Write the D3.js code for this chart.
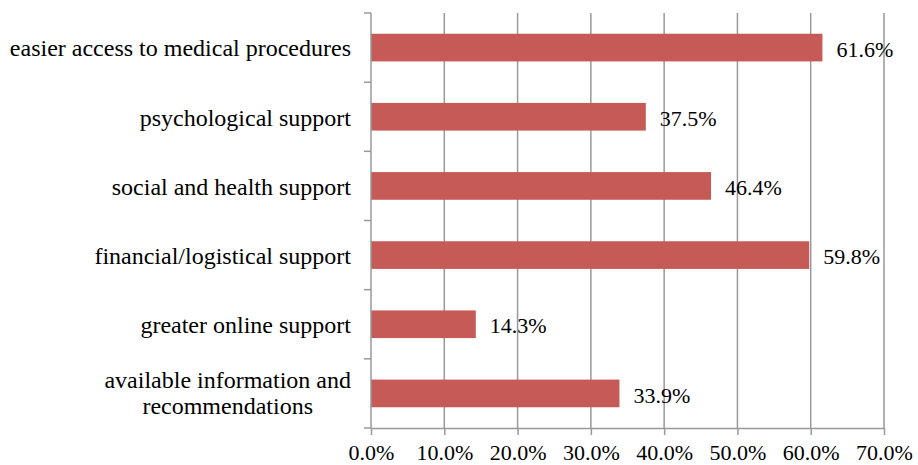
<!DOCTYPE html>
<meta charset="utf-8">
<style>
body { margin: 0; background: #fff; }
.grid line { stroke: #999; stroke-width: 1.5px; }
.axis path, .axis line { stroke: #999; stroke-width: 1.5px; }
</style>
<body>
<svg width="918" height="465"></svg>
<script src="https://d3js.org/d3.v7.min.js"></script>
<script>

var categories = [
  "easier access to medical procedures",
  "psychological support",
  "social and health support",
  "financial/logistical support",
  "greater online support",
  "available information and|recommendations"
];
var values = [61.6, 37.5, 46.4, 59.8, 14.3, 33.9];
var tickValues = [0, 10, 20, 30, 40, 50, 60, 70];

var serif = "'Liberation Serif', 'Times New Roman', serif";

var svg = d3.select("svg"),
    margin = {top: 13, right: 34, bottom: 37, left: 371},
    width = 918 - margin.left - margin.right,
    height = 465 - margin.top - margin.bottom;

var g = svg.append("g")
    .attr("transform", "translate(" + margin.left + "," + margin.top + ")");

var x = d3.scaleLinear().domain([0, 70]).range([0, width]);
var y = d3.scaleBand().domain(categories).range([0, height]).paddingInner(0.6).paddingOuter(0.3);

// vertical gridlines
g.append("g")
    .attr("class", "grid")
  .selectAll("line")
  .data(tickValues.slice(1))
  .enter().append("line")
    .attr("x1", function(d) { return x(d); })
    .attr("x2", function(d) { return x(d); })
    .attr("y1", 0)
    .attr("y2", height);

// bars
g.selectAll(".bar")
  .data(values)
  .enter().append("rect")
    .attr("class", "bar")
    .attr("x", 0)
    .attr("y", function(d, i) { return y(categories[i]); })
    .attr("width", function(d) { return x(d); })
    .attr("height", y.bandwidth())
    .attr("fill", "#c65a56");

// value labels
g.selectAll(".val")
  .data(values)
  .enter().append("text")
    .attr("class", "val")
    .attr("x", function(d) { return x(d) + 14; })
    .attr("y", function(d, i) { return y(categories[i]) + y.bandwidth() / 2; })
    .attr("dy", "0.42em")
    .style("font-family", serif)
    .style("font-size", "22px")
    .attr("fill", "#000")
    .text(function(d) { return d.toFixed(1) + "%"; });

// x axis
var xAxis = g.append("g")
    .attr("class", "axis")
    .attr("transform", "translate(0," + height + ")")
    .call(d3.axisBottom(x).tickValues(tickValues).tickSize(7).tickSizeOuter(0)
      .tickFormat(function(d) { return d.toFixed(1) + "%"; }));
xAxis.selectAll("text")
    .style("font-family", serif)
    .style("font-size", "22px")
    .attr("fill", "#000")
    .attr("y", 16);

// y axis with ticks between categories
var boundaries = d3.range(categories.length + 1).map(function(i) { return i * height / categories.length; });
g.append("line")
    .attr("x1", 0).attr("x2", 0)
    .attr("y1", 0).attr("y2", height)
    .attr("stroke", "#999").attr("stroke-width", 1.5);
g.selectAll(".ytick")
  .data(boundaries)
  .enter().append("line")
    .attr("class", "ytick")
    .attr("x1", -7).attr("x2", 0)
    .attr("y1", function(d) { return d; })
    .attr("y2", function(d) { return d; })
    .attr("stroke", "#999").attr("stroke-width", 1.5);

var labels = g.selectAll(".ylab")
  .data(categories)
  .enter().append("text")
    .attr("class", "ylab")
    .style("font-family", serif)
    .style("font-size", "24px")
    .attr("fill", "#000")
    .attr("transform", function(d) {
      return "translate(-20," + (y(d) + y.bandwidth() / 2) + ")";
    });

labels.each(function(d) {
  var lines = d.split("|");
  var t = d3.select(this);
  if (lines.length === 1) {
    t.attr("text-anchor", "end").append("tspan").attr("x", 0).attr("dy", "0.37em").text(lines[0]);
  } else {
    // two centred lines, right edge aligned with the others
    t.attr("text-anchor", "middle");
    lines.forEach(function(l, i) {
      t.append("tspan").attr("x", 0).attr("dy", i === 0 ? -5.5 : 26).text(l);
    });
    var w = this.getBBox().width;
    t.selectAll("tspan").attr("x", -w / 2);
  }
});

</script>
</body>
